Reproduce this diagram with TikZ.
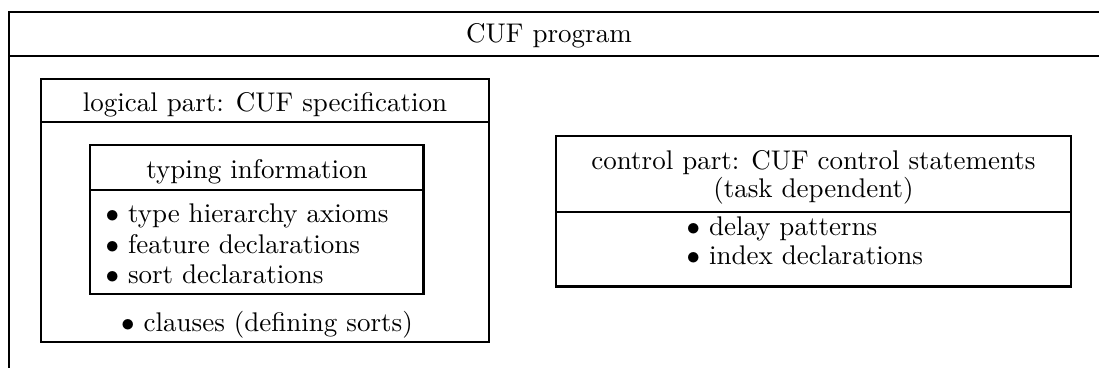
\documentclass[tikz,border=0pt]{standalone}
\begin{document}
\begin{tikzpicture}[x=0.3704pt,y=-0.3704pt,
  frame/.style={line width=0.9pt},
  txt/.style={inner sep=0pt,font=\normalsize}]
\useasboundingbox (0,0) rectangle (1099,368);
\clip (0,0) rectangle (1099,368);
% outer program box (open at right and bottom)
\draw[frame] (1110,12) -- (9,12) -- (9,380);
\draw[frame] (9,56) -- (1110,56);
\node[txt,anchor=base] (prog) at (549,43) {CUF program};
% logical part
\draw[frame] (41,79) rectangle (489,342);
\draw[frame] (41,122) -- (489,122);
\node[txt,anchor=base] (logical) at (265,112) {logical part: CUF specification};
% typing information
\draw[frame] (90,145) rectangle (423.5,294);
\draw[frame] (90,190) -- (423.5,190);
\node[txt,anchor=base] (typing) at (257,179) {typing information};
\node[txt,anchor=base west] (t1) at (105,223) {$\bullet$ type hierarchy axioms};
\node[txt,anchor=base west] (t2) at (105,254) {$\bullet$ feature declarations};
\node[txt,anchor=base west] (t3) at (105,284) {$\bullet$ sort declarations};
\node[txt,anchor=base] (clauses) at (267,332) {$\bullet$ clauses (defining sorts)};
% control part
\draw[frame] (556,136) rectangle (1071,286.5);
\draw[frame] (556,212) -- (1071,212);
\node[txt,anchor=base] (control) at (813.5,170) {control part: CUF control statements};
\node[txt,anchor=base] (task) at (813.5,198) {(task dependent)};
\node[txt,anchor=base west] (c1) at (686,236) {$\bullet$ delay patterns};
\node[txt,anchor=base west] (c2) at (686,265) {$\bullet$ index declarations};
\end{tikzpicture}
\end{document}
